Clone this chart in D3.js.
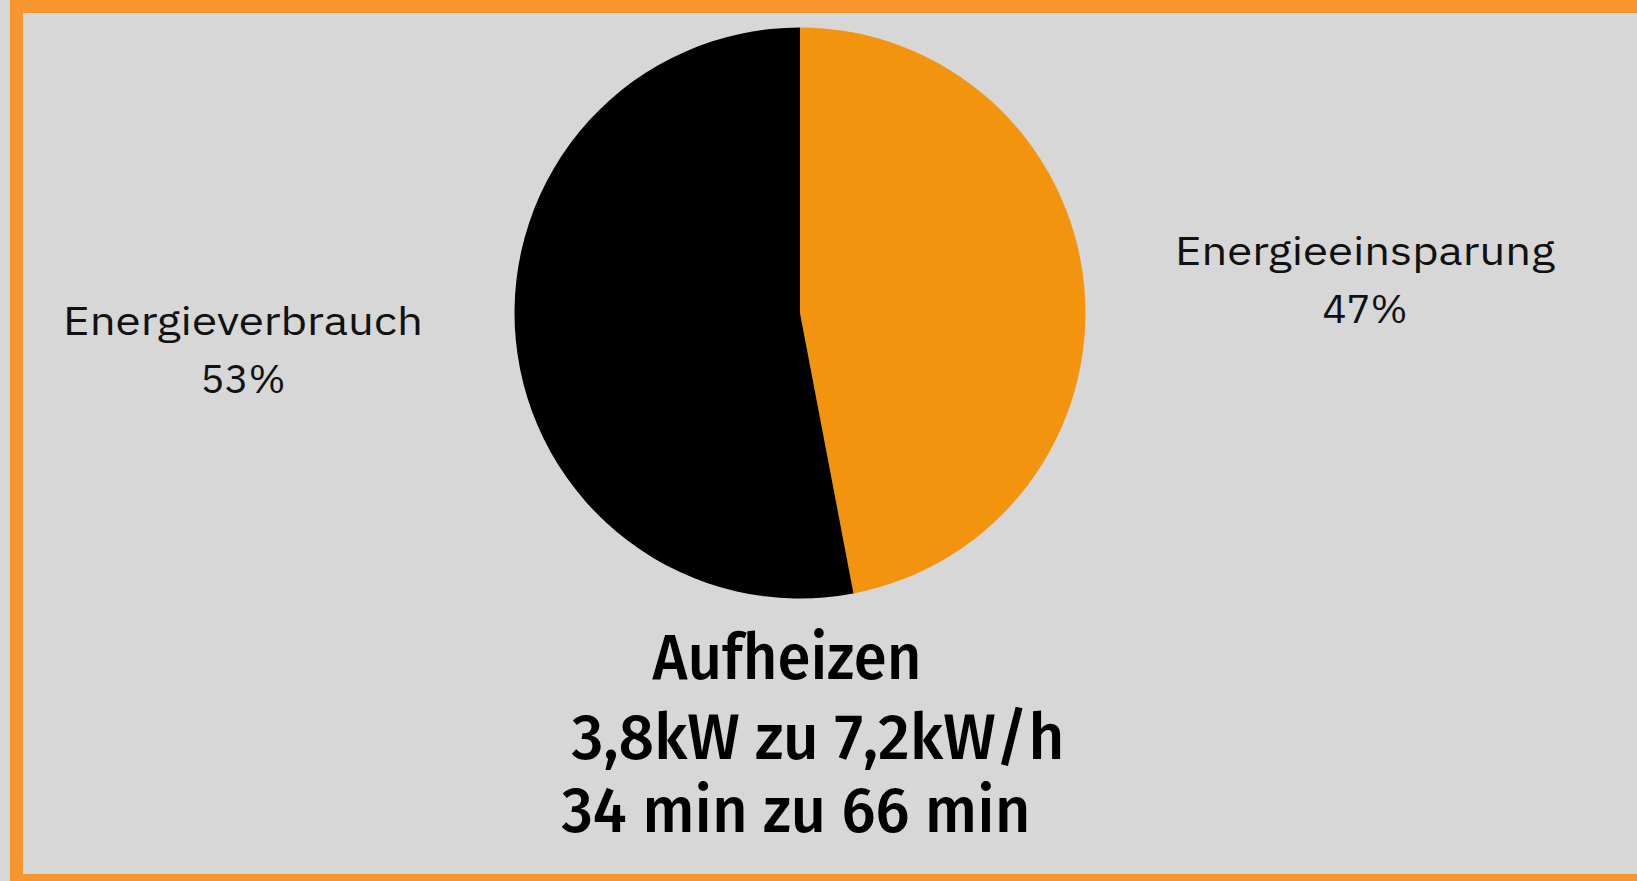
<!DOCTYPE html>
<html><head><meta charset="utf-8">
<script src="https://cdn.jsdelivr.net/npm/d3@7"></script>
<style>html,body{margin:0;padding:0;background:#d7d7d7;overflow:hidden}</style>
</head><body>
<svg id="c" width="1637" height="881"></svg>
<script>
const categories = ["Energieeinsparung", "Energieverbrauch"];
const values = [47, 53];
const colors = ["#f3940f", "#000000"];
const titleLines = ["Aufheizen", "3,8kW zu 7,2kW/h", "34 min zu 66 min"];

const W = 1637, H = 881;
const svg = d3.select("#c");
svg.append("rect").attr("width", W).attr("height", H).attr("fill", "#d7d7d7");
// orange frame (open on the right)
const frame = "#f7962f";
svg.append("rect").attr("x", 10).attr("y", 0).attr("width", W - 10).attr("height", 13).attr("fill", frame);
svg.append("rect").attr("x", 10).attr("y", 0).attr("width", 13).attr("height", H).attr("fill", frame);
svg.append("rect").attr("x", 10).attr("y", 874).attr("width", W - 10).attr("height", 7).attr("fill", frame);

const cx = 800, cy = 313, r = 285.5;
const pie = d3.pie().sort(null).value(d => d)(values);
const arc = d3.arc().innerRadius(0).outerRadius(r);
const g = svg.append("g").attr("transform", `translate(${cx},${cy})`);
g.selectAll("path").data(pie).join("path").attr("d", arc).attr("fill", (d, i) => colors[i]);

// labels
const labelPos = [{x: 1365, y: 265, w: 380}, {x: 243, y: 335, w: 360}];
const lf = "'IBM Plex Sans','Noto Sans','Open Sans',sans-serif";
categories.forEach((c, i) => {
  const p = labelPos[i];
  svg.append("text").attr("x", p.x).attr("y", p.y).attr("text-anchor", "middle")
    .attr("font-family", lf).attr("font-size", 40).attr("fill", "#111")
    .attr("textLength", p.w).attr("lengthAdjust", "spacingAndGlyphs").text(c);
  svg.append("text").attr("x", p.x).attr("y", p.y + 58).attr("text-anchor", "middle")
    .attr("font-family", lf).attr("font-size", 40).attr("fill", "#111").text(d3.format(".0f")(values[i]) + "%");
});

const tf = "'Fira Sans','Noto Sans','Open Sans',sans-serif";
const tpos = [{x: 787, y: 679, w: 269}, {x: 818, y: 759, w: 493}, {x: 796, y: 832, w: 469}];
titleLines.forEach((s, i) => {
  svg.append("text").attr("x", tpos[i].x).attr("y", tpos[i].y).attr("text-anchor", "middle")
    .attr("font-family", tf).attr("font-weight", 500).attr("font-size", 64).attr("fill", "#000")
    .attr("textLength", tpos[i].w).attr("lengthAdjust", "spacingAndGlyphs").text(s);
});
</script>
</body></html>
